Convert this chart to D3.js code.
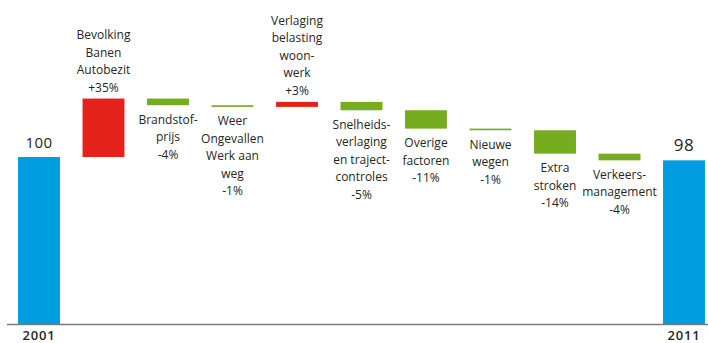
<!DOCTYPE html>
<html>
<head>
<meta charset="utf-8">
<script src="https://cdn.jsdelivr.net/npm/d3@7"></script>
<style>
  html, body { margin: 0; padding: 0; background: #fff; }
  svg { display: block; }
  text { font-family: "Open Sans", "Noto Sans", sans-serif; fill: #262626; }
</style>
</head>
<body>
<svg id="chart" width="708" height="343"></svg>
<script>
// Totals at both ends of the waterfall (index, 2001 = 100)
const years = ["2001", "2011"];
const startValue = 100;
const endValue = 98;

// Contributing factors, in order, with their change in index points
const factorLabels = [
  ["Bevolking", "Banen", "Autobezit"],
  ["Brandstof-", "prijs"],
  ["Weer", "Ongevallen", "Werk aan", "weg"],
  ["Verlaging", "belasting", "woon-", "werk"],
  ["Snelheids-", "verlaging", "en traject-", "controles"],
  ["Overige", "factoren"],
  ["Nieuwe", "wegen"],
  ["Extra", "stroken"],
  ["Verkeers-", "management"]
];
const factorChanges = [35, -4, -1, 3, -5, -11, -1, -14, -4];

const colors = { total: "#009ee0", up: "#e3231b", down: "#76ac1f" };

const W = 708, H = 343;
const baseY = 324;

const svg = d3.select("#chart");

// Build the step records: start total, each factor, end total
const running = d3.cumsum([startValue, ...factorChanges]);
const steps = [];
steps.push({ key: "s", type: "total", from: 0, to: startValue, label: String(startValue), year: years[0] });
factorChanges.forEach((c, i) => {
  steps.push({
    key: "f" + i, type: c >= 0 ? "up" : "down",
    from: running[i], to: running[i + 1], change: c,
    lines: [...factorLabels[i], (c >= 0 ? "+" : "-") + Math.abs(c) + "%"]
  });
});
steps.push({ key: "e", type: "total", from: 0, to: endValue, label: String(endValue), year: years[1] });

const x = d3.scaleBand()
  .domain(steps.map(d => d.key))
  .range([6.75, 716.25])
  .paddingInner(0.35)
  .paddingOuter(0.175);

const y = d3.scaleLinear().domain([0, 100]).range([baseY, 157]);

// Bars
svg.append("g").selectAll("rect")
  .data(steps)
  .join("rect")
  .attr("x", d => x(d.key))
  .attr("width", x.bandwidth())
  .attr("y", d => y(Math.max(d.from, d.to)))
  .attr("height", d => Math.abs(y(d.from) - y(d.to)))
  .attr("fill", d => colors[d.type]);

// Baseline
svg.append("line")
  .attr("x1", 7).attr("x2", 708)
  .attr("y1", baseY + 0.5).attr("y2", baseY + 0.5)
  .attr("stroke", "#7a7a7a").attr("stroke-width", 1.5);

// Total values above the end bars
const totals = steps.filter(d => d.type === "total");
svg.append("g").selectAll("text")
  .data(totals)
  .join("text")
  .attr("x", d => x(d.key) + x.bandwidth() / 2)
  .attr("y", d => y(d.to) - 9)
  .attr("text-anchor", "middle")
  .attr("font-size", (d, i) => i === 0 ? 15 : 17)
  .attr("letter-spacing", 0.5)
  .text(d => d.label);

// Year labels under the axis
svg.append("g").selectAll("text")
  .data(totals)
  .join("text")
  .attr("x", d => x(d.key) + x.bandwidth() / 2)
  .attr("y", 339.5)
  .attr("text-anchor", "middle")
  .attr("font-size", 13)
  .attr("font-weight", 600)
  .attr("letter-spacing", 0.8)
  .text(d => d.year);

// Factor labels: above rising bars, below falling bars
const lineH = 17.5;
const factors = steps.filter(d => d.type !== "total");
const lab = svg.append("g").selectAll("text")
  .data(factors)
  .join("text")
  .attr("text-anchor", "middle")
  .attr("font-size", 12)
  .attr("x", d => x(d.key) + x.bandwidth() / 2)
  .attr("y", d => {
    if (d.change >= 0) {
      return y(d.to) - 7 - (d.lines.length - 1) * lineH;
    }
    return y(d.to) + 18.5;
  });
lab.each(function(d) {
  const t = d3.select(this);
  const cx = x(d.key) + x.bandwidth() / 2;
  d.lines.forEach((ln, i) => {
    t.append("tspan").attr("x", cx).attr("dy", i === 0 ? 0 : lineH).text(ln);
  });
});
</script>
</body>
</html>
